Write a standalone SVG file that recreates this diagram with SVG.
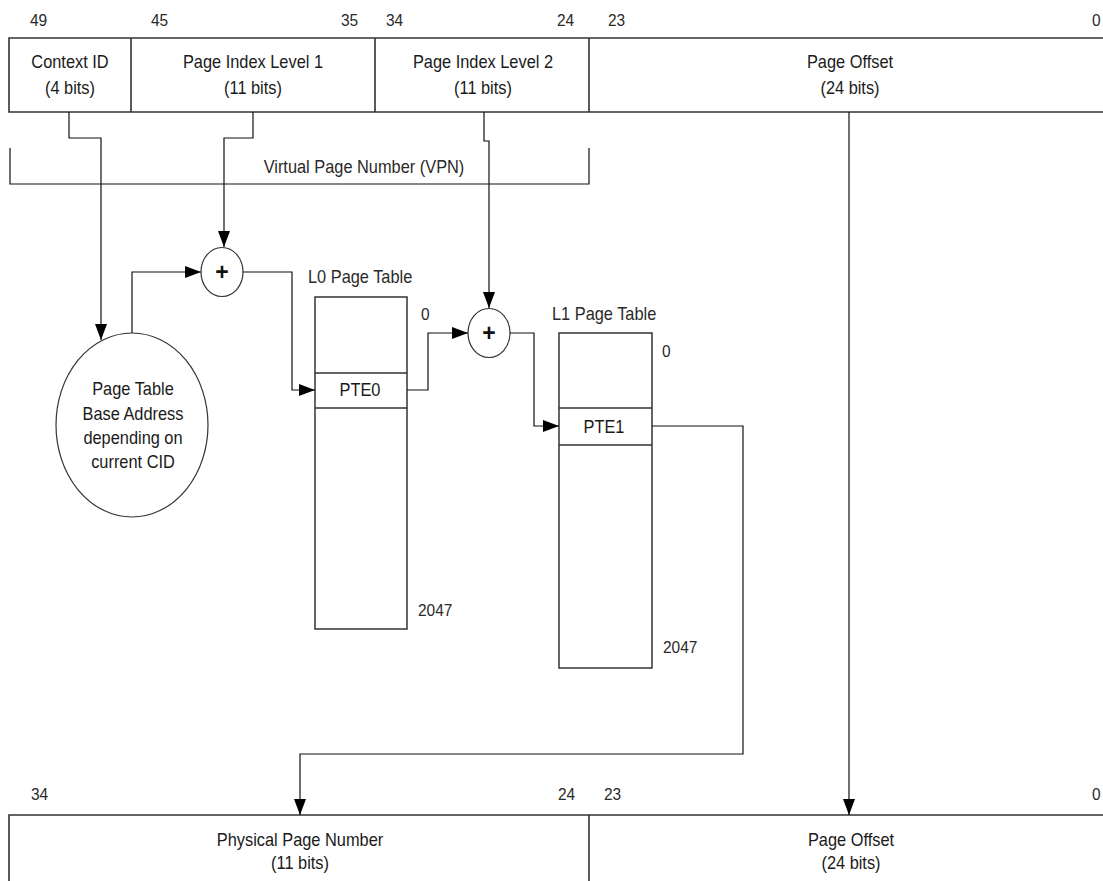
<svg xmlns="http://www.w3.org/2000/svg" width="1103" height="881" viewBox="0 0 1103 881">
<style>
text{font-family:"Liberation Sans",Arial,sans-serif;font-size:18px;fill:#1a1a1a;transform-box:fill-box;transform-origin:left center;transform:scaleX(0.91)}
.c{text-anchor:middle;transform-origin:center}
.num{font-size:17px;fill:#2a2a2a}
.lbl{fill:#2a2a2a}
.box{fill:#fff;stroke:#333;stroke-width:1.5}
.reg{fill:none;stroke:#333;stroke-width:1.6}
.wire{fill:none;stroke:#111;stroke-width:1.2}
.plus{font-size:23px;font-weight:bold;fill:#111;transform:none}
.circ{fill:#fff;stroke:#333;stroke-width:1.2}
</style>
<defs>
<marker id="arr" viewBox="0 0 16 12" refX="16" refY="6" markerWidth="16" markerHeight="12" markerUnits="userSpaceOnUse" orient="auto">
<path d="M0,0 L16,6 L0,12 z" fill="#000"/>
</marker>
</defs>
<rect width="1103" height="881" fill="#fff"/>

<g id="virtual-address">
<path class="reg" d="M1104,38 H9 V112 H1104 M131,38 V112 M375,38 V112 M589,38 V112"/>
<text class="num" x="30" y="26">49</text>
<text class="num" x="151" y="26">45</text>
<text class="num" x="341" y="26">35</text>
<text class="num" x="386" y="26">34</text>
<text class="num" x="557" y="26">24</text>
<text class="num" x="608" y="26">23</text>
<text class="num" x="1092" y="26">0</text>
<text class="c" x="70" y="68">Context ID</text>
<text class="c" x="70" y="94">(4 bits)</text>
<text class="c" x="253" y="68">Page Index Level 1</text>
<text class="c" x="253" y="94">(11 bits)</text>
<text class="c" x="483" y="68">Page Index Level 2</text>
<text class="c" x="483" y="94">(11 bits)</text>
<text class="c" x="850" y="68">Page Offset</text>
<text class="c" x="850" y="94">(24 bits)</text>
</g>

<g id="vpn-bracket">
<path class="wire" d="M10,148 V184 H589 V148" stroke="#333"/>
<text class="c lbl" x="364" y="173">Virtual Page Number (VPN)</text>
</g>

<g id="base-address">
<ellipse class="circ" cx="132" cy="425" rx="76" ry="92"/>
<text class="c" x="133" y="395">Page Table</text>
<text class="c" x="133" y="420">Base Address</text>
<text class="c" x="133" y="444">depending on</text>
<text class="c" x="133" y="468">current CID</text>
</g>

<g id="adder1">
<ellipse class="circ" cx="222" cy="272" rx="21" ry="24.5"/>
<text class="c plus" x="222" y="280">+</text>
</g>

<g id="adder2">
<ellipse class="circ" cx="489" cy="333" rx="21" ry="24.5"/>
<text class="c plus" x="489" y="341">+</text>
</g>

<g id="l0-table">
<text class="lbl" x="308" y="283">L0 Page Table</text>
<rect class="box" x="315" y="297" width="92" height="332"/>
<path class="box" d="M315,373 H407 M315,408 H407"/>
<text class="c" x="360" y="396">PTE0</text>
<text class="num" x="421" y="320">0</text>
<text class="num" x="418" y="616">2047</text>
</g>

<g id="l1-table">
<text class="lbl" x="552" y="320">L1 Page Table</text>
<rect class="box" x="559" y="333" width="93" height="335"/>
<path class="box" d="M559,408 H652 M559,445 H652"/>
<text class="c" x="604" y="433">PTE1</text>
<text class="num" x="662" y="357">0</text>
<text class="num" x="663" y="653">2047</text>
</g>

<g id="physical-address">
<path class="reg" d="M1104,815 H9 V882 M589,815 V882"/>
<text class="num" x="31" y="800">34</text>
<text class="num" x="558" y="800">24</text>
<text class="num" x="604" y="800">23</text>
<text class="num" x="1092" y="800">0</text>
<text class="c" x="300" y="846">Physical Page Number</text>
<text class="c" x="300" y="869">(11 bits)</text>
<text class="c" x="851" y="846">Page Offset</text>
<text class="c" x="851" y="869">(24 bits)</text>
</g>

<g id="connectors">
<path class="wire" d="M69,112 V138 H101 V340" marker-end="url(#arr)"/>
<path class="wire" d="M253,112 V138 H224 V247" marker-end="url(#arr)"/>
<path class="wire" d="M484,112 V141 H489 V308" marker-end="url(#arr)"/>
<path class="wire" d="M132,333 V272 H201" marker-end="url(#arr)"/>
<path class="wire" d="M243,272 H292 V390 H315" marker-end="url(#arr)"/>
<path class="wire" d="M407,390 H428 V333 H468" marker-end="url(#arr)"/>
<path class="wire" d="M510,333 H534 V426 H559" marker-end="url(#arr)"/>
<path class="wire" d="M652,426 H743 V754 H300 V815" marker-end="url(#arr)"/>
<path class="wire" d="M849,112 V815" marker-end="url(#arr)"/>
</g>
</svg>
